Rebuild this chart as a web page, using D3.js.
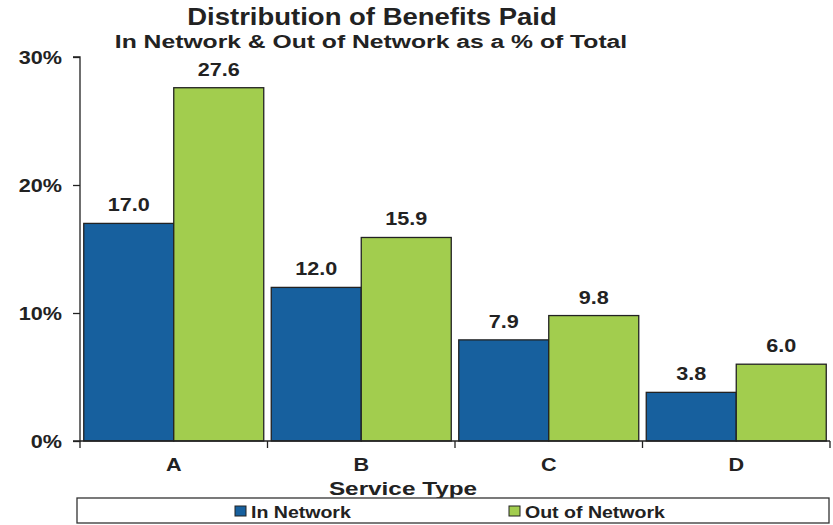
<!DOCTYPE html>
<html><head><meta charset="utf-8">
<script src="https://cdn.jsdelivr.net/npm/d3@7"></script>
<style>body{margin:0;background:#fff}text{font-family:"Liberation Sans",Arial,sans-serif;font-weight:bold;fill:#222}</style>
</head><body><svg id="c" width="833" height="525"></svg>
<script>
const categories = ["A","B","C","D"];
const inNetwork = [17.0, 12.0, 7.9, 3.8];
const outNetwork = [27.6, 15.9, 9.8, 6.0];
const seriesNames = ["In Network","Out of Network"];
const yTicks = [0,10,20,30];
const colors = ["#17609e","#a2cd4e"];

const svg = d3.select("#c");
const m = {l:80, r:830, t:57, b:441};
const x = d3.scaleBand().domain(categories).range([m.l, m.r]).paddingInner(0.04).paddingOuter(0.02);
const y = d3.scaleLinear().domain([0,30]).range([m.b, m.t]);

// stretched text helper (reference text is horizontally widened)
function txt(parent, xx, yy, s, size, sx, anchor){
  return parent.append("g").attr("transform",`translate(${xx},${yy}) scale(${sx},1)`)
    .append("text").attr("text-anchor", anchor||"middle").style("font-size", size+"px").text(s);
}

txt(svg, 372, 25, "Distribution of Benefits Paid", 23.5, 1.17);
txt(svg, 371, 48, "In Network & Out of Network as a % of Total", 19, 1.3);

const data = categories.map((c,i)=>({c, v:[inNetwork[i], outNetwork[i]]}));
const x1 = d3.scaleBand().domain([0,1]).range([0, x.bandwidth()]);

const g = svg.append("g");
data.forEach(d=>{
  d.v.forEach((v,j)=>{
    g.append("rect").attr("x", x(d.c)+x1(j)).attr("y", y(v)).attr("width", x1.bandwidth()).attr("height", y(0)-y(v))
      .attr("fill", colors[j]).attr("stroke","#222").attr("stroke-width",1.3);
    txt(g, x(d.c)+x1(j)+x1.bandwidth()/2, y(v)-12, v.toFixed(1), 18, 1.2);
  });
});

// axes
const ya = svg.append("g").attr("transform",`translate(${m.l},0)`).call(d3.axisLeft(y).tickValues(yTicks).tickSize(7).tickFormat(""));
ya.select(".domain").attr("stroke","#222").attr("stroke-width",1.3).attr("d",`M-7,${m.t}H0V${m.b}H-7`);
ya.selectAll(".tick line").attr("stroke","#222").attr("stroke-width",1.3);
yTicks.forEach(t=>txt(svg, 62, y(t)+7, t+"%", 18, 1.2, "end"));

svg.append("line").attr("x1",m.l).attr("x2",m.r).attr("y1",m.b).attr("y2",m.b).attr("stroke","#222").attr("stroke-width",1.3);
const bounds = [m.l].concat(categories.map(c=>x(c)+x.bandwidth()+x.step()*x.paddingInner()/2));
bounds[bounds.length-1] = m.r;
bounds.forEach(b=>svg.append("line").attr("x1",b).attr("x2",b).attr("y1",m.b).attr("y2",m.b+7).attr("stroke","#222").attr("stroke-width",1.3));
categories.forEach(c=>txt(svg, x(c)+x.bandwidth()/2, 471, c, 18, 1.2));

txt(svg, 403, 495, "Service Type", 19, 1.28);

// legend
svg.append("rect").attr("x",77).attr("y",498).attr("width",752).attr("height",25).attr("fill","#fff").attr("stroke","#333").attr("stroke-width",1.3);
const lx = [235, 509];
seriesNames.forEach((s,i)=>{
  svg.append("rect").attr("x",lx[i]).attr("y",506).attr("width",11).attr("height",10).attr("fill",colors[i]).attr("stroke","#222").attr("stroke-width",1);
  txt(svg, lx[i]+16, 518, s, 17, 1.15, "start");
});
</script></body></html>
